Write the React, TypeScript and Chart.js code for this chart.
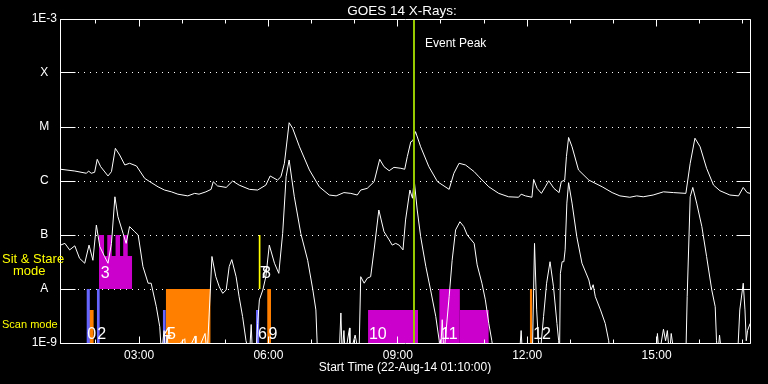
import React, { useEffect, useRef } from "react";
import { Chart, registerables } from "chart.js";

Chart.register(...registerables);

// ---------- text ----------
const TITLE = "GOES 14 X-Rays:";
const X_TITLE = "Start Time (22-Aug-14 01:10:00)";
const PEAK_LABEL = "Event Peak";
const SIT_LABEL = ["Sit & Stare", "mode"];
const SCAN_LABEL = "Scan mode";

// ---------- axes ----------
const X_MIN = 1 + 10 / 60; // 01:10
const X_MAX = 17 + 10 / 60; // 17:10
const xTickHours = [3, 6, 9, 12, 15];
const xMinorHours = [2, 3, 4, 5, 6, 7, 8, 9, 10, 11, 12, 13, 14, 15, 16, 17];
const yTickValues = [1e-9, 1e-8, 1e-7, 1e-6, 1e-5, 1e-4, 1e-3];
const yTickLabels = ["1E-9", "A", "B", "C", "M", "X", "1E-3"];

// ---------- GOES long channel (1-8 A) ----------
const longHours = [
  1.18, 1.51, 1.78, 1.83, 1.89, 1.97, 2.03, 2.11, 2.28, 2.36,
  2.45, 2.55, 2.67, 2.78, 2.94, 3.13, 3.25, 3.44, 3.59, 3.75,
  3.9, 4.13, 4.29, 4.39, 4.55, 4.67, 4.72, 4.82, 5.02, 5.17,
  5.32, 5.56, 5.75, 5.94, 6.04, 6.21, 6.29, 6.37, 6.48, 6.56,
  6.72, 6.95, 7.18, 7.41, 7.57, 7.75, 7.91, 8.06, 8.14, 8.29,
  8.45, 8.58, 8.68, 8.8, 8.91, 9.07, 9.16, 9.22, 9.3, 9.35,
  9.41, 9.53, 9.72, 9.92, 10.19, 10.3, 10.42, 10.57, 10.77, 10.88,
  11.11, 11.34, 11.57, 11.8, 11.86, 11.96, 12.11, 12.15, 12.23, 12.33,
  12.42, 12.5, 12.62, 12.74, 12.79, 12.87, 12.91, 12.96, 13.04, 13.19,
  13.43, 13.74, 13.97, 14.15, 14.38, 14.54, 14.69, 14.92, 15.16, 15.39,
  15.68, 15.78, 15.89, 16.01, 16.16, 16.32, 16.47, 16.7, 16.9, 17.01,
  17.1, 17.17,
];
const longFlux = [
  1.65e-6, 1.53e-6, 1.39e-6, 1.53e-6, 1.39e-6, 1.45e-6, 2.52e-6, 1.84e-6, 1.24e-6, 1.49e-6,
  4.03e-6, 3.03e-6, 1.98e-6, 2.13e-6, 1.9e-6, 1.12e-6, 9.7e-7, 7.8e-7, 6.8e-7, 6.3e-7,
  5.7e-7, 5.3e-7, 5.9e-7, 5.7e-7, 6.3e-7, 7.0e-7, 9.7e-7, 8.1e-7, 7.6e-7, 1.0e-6,
  8.4e-7, 7.0e-7, 6.8e-7, 8.4e-7, 1.24e-6, 1.04e-6, 1.2e-6, 2.13e-6, 1.2e-5, 9.5e-6,
  4.3e-6, 1.6e-6, 7.8e-7, 5.5e-7, 5.3e-7, 6.1e-7, 5.9e-7, 5.5e-7, 6.8e-7, 7.3e-7,
  9.7e-7, 2.52e-6, 1.84e-6, 1.55e-6, 1.79e-6, 1.72e-6, 1.65e-6, 2.82e-6, 5.3e-6, 5.6e-6,
  8.2e-6, 4.3e-6, 1.84e-6, 9.7e-7, 7.0e-7, 1.39e-6, 2.13e-6, 1.98e-6, 1.49e-6, 1.2e-6,
  7.8e-7, 5.9e-7, 5.1e-7, 5.0e-7, 5.7e-7, 5.3e-7, 5.0e-7, 1.07e-6, 7.3e-7, 5.9e-7,
  7.8e-7, 1.01e-6, 7.3e-7, 6.1e-7, 9.7e-7, 1.04e-6, 2.82e-6, 6.4e-6, 4.3e-6, 1.6e-6,
  1.04e-6, 7.8e-7, 6.1e-7, 5.3e-7, 5.0e-7, 5.3e-7, 5.1e-7, 5.5e-7, 6.3e-7, 6.1e-7,
  5.9e-7, 2.13e-6, 6.2e-6, 4.3e-6, 1.72e-6, 8.4e-7, 6.6e-7, 5.5e-7, 5.3e-7, 7.6e-7,
  6.1e-7, 5.9e-7,
];

// ---------- GOES short channel (0.5-4 A) ----------
const shortHours = [
  1.18, 1.28, 1.39, 1.51, 1.62, 1.74, 1.84, 1.93, 2.01, 2.09,
  2.2, 2.28, 2.36, 2.44, 2.51, 2.63, 2.7, 2.78, 2.9, 2.98,
  3.09, 3.21, 3.28, 3.4, 3.48, 3.52, 3.58, 3.61, 3.65, 3.69,
  4.06, 4.09, 4.3, 4.32, 4.53, 4.58, 4.69, 4.78, 4.86, 4.94,
  5.02, 5.09, 5.15, 5.25, 5.32, 5.4, 5.48, 5.56, 5.6, 5.63,
  5.71, 5.75, 5.79, 5.87, 5.94, 6.02, 6.14, 6.24, 6.33, 6.41,
  6.48, 6.6, 6.75, 6.91, 7.03, 7.1, 7.14, 7.64, 7.68, 7.71,
  7.75, 7.78, 7.88, 7.89, 8.01, 8.1, 8.14, 8.22, 8.29, 8.37,
  8.45, 8.56, 8.68, 8.8, 8.87, 8.95, 9.03, 9.12, 9.18, 9.28,
  9.34, 9.38, 9.45, 9.53, 9.65, 9.76, 9.88, 9.96, 9.99, 10.03,
  10.07, 10.19, 10.26, 10.34, 10.44, 10.53, 10.61, 10.77, 10.84, 10.95,
  11.03, 11.11, 11.18, 11.23, 11.82, 11.86, 11.89, 12.12, 12.17, 12.22,
  12.26, 12.3, 12.38, 12.45, 12.53, 12.61, 12.69, 12.73, 12.75, 12.77,
  12.81, 12.85, 12.88, 12.92, 12.96, 13.04, 13.15, 13.27, 13.43, 13.48,
  13.53, 13.58, 13.7, 13.81, 13.89, 13.92, 14.99, 15.02, 15.06, 15.16,
  15.21, 15.25, 15.3, 15.34, 15.41, 15.68, 15.71, 15.78, 15.84, 15.93,
  16.05, 16.16, 16.28, 16.36, 16.39, 16.42, 16.46, 16.51, 16.88, 16.93,
  17.01, 17.05, 17.08, 17.11, 17.17,
];
const shortFlux = [
  6.5e-8, 7.0e-8, 5.3e-8, 6.3e-8, 3.7e-8, 3.0e-8, 6.5e-8, 3.4e-8, 1.53e-7, 6.1e-8,
  4.0e-8, 3.0e-8, 7.0e-8, 5.1e-7, 2.18e-7, 1.07e-7, 7.0e-8, 1.43e-7, 1.15e-7, 1.0e-7,
  2.6e-8, 1.28e-8, 1.28e-8, 4.7e-9, 2.0e-9, 6e-10, 1.7e-9, 6e-10, 1.4e-9, 6e-10,
  1.2e-9, 6e-10, 1.35e-9, 6e-10, 1.5e-9, 6e-10, 4.0e-8, 1.69e-8, 1.1e-8, 8.3e-9,
  9.6e-9, 2.6e-8, 3.5e-8, 1.69e-8, 7.2e-9, 3.1e-9, 1.1e-9, 6e-10, 2.2e-9, 6e-10,
  6e-10, 2.3e-9, 6.3e-9, 9.6e-9, 1.69e-8, 6.5e-8, 3.0e-8, 1.95e-8, 1.07e-7, 1.2e-6,
  2.45e-6, 5.1e-7, 1.07e-7, 3.4e-8, 9.6e-9, 4.1e-9, 6e-10, 6e-10, 3.6e-9, 6e-10,
  1.7e-9, 6e-10, 1.9e-9, 6e-10, 1.4e-9, 6e-10, 1.69e-8, 1.28e-8, 1.58e-8, 1.69e-8,
  5.3e-8, 2.9e-7, 1.15e-7, 8.1e-8, 6.5e-8, 7.0e-8, 6.5e-8, 5.3e-8, 1.9e-7, 6.8e-7,
  4.8e-7, 1.04e-6, 2.9e-7, 9.3e-8, 2.6e-8, 9.6e-9, 3.1e-9, 1.1e-9, 6e-10, 2.7e-9,
  6e-10, 7.2e-9, 3.4e-8, 1.24e-7, 1.76e-7, 1.43e-7, 1.0e-7, 7.0e-8, 2.8e-8, 1.28e-8,
  6.3e-9, 2.3e-9, 1.1e-9, 6e-10, 6e-10, 1.7e-9, 6e-10, 6e-10, 7.0e-8, 4.1e-9,
  1.1e-9, 6e-10, 3.1e-9, 1.28e-8, 3.2e-8, 1.1e-8, 2.3e-9, 1.1e-9, 6e-10, 1.95e-8,
  3.2e-8, 3.2e-8, 5.3e-8, 3.9e-7, 9.3e-7, 3.9e-7, 9.3e-8, 3.0e-8, 1.47e-8, 9.6e-9,
  1.2e-8, 7.2e-9, 4.1e-9, 2.3e-9, 1.1e-9, 6e-10, 6e-10, 1.5e-9, 6e-10, 1.8e-9,
  1.1e-9, 1.7e-9, 6e-10, 1.5e-9, 6e-10, 6e-10, 7.2e-9, 5.1e-7, 7.6e-7, 3.9e-7,
  1.43e-7, 4.0e-8, 9.6e-9, 4.7e-9, 1.1e-9, 6e-10, 1.4e-9, 6e-10, 6e-10, 4.1e-9,
  1.28e-8, 4.1e-9, 1.1e-9, 1.7e-9, 2.3e-9,
];

// ---------- event peak ----------
const PEAK_HOUR = 9.375;

// ---------- observation blocks ----------
const barStart = [1.78, 1.84, 2.02, 2.07, 2.07, 2.26, 2.45, 2.63, 3.55, 3.62, 5.71, 5.77, 5.97, 8.31, 9.96, 10.44, 12.06];
const barEnd = [1.86, 1.95, 2.09, 2.84, 2.19, 2.37, 2.56, 2.74, 3.62, 4.66, 5.79, 5.82, 6.06, 9.47, 10.44, 11.11, 12.12];
const barLow = [1e-9, 1e-9, 1e-9, 1e-8, 4.1e-8, 4.1e-8, 4.1e-8, 4.1e-8, 1e-9, 1e-9, 1e-9, 1e-8, 1e-9, 1e-9, 1e-9, 1e-9, 1e-9];
const barHigh = [1e-8, 4.1e-9, 1e-8, 4.1e-8, 1e-7, 1e-7, 1e-7, 1e-7, 4.1e-9, 1e-8, 4.1e-9, 1e-7, 1e-8, 4.1e-9, 1e-8, 4.1e-9, 1e-8];
const barKind = ["blue", "orange", "blue", "magenta", "magenta", "magenta", "magenta", "magenta", "blue", "orange", "blue", "yellow", "orange", "magenta", "magenta", "magenta", "orange"];

const labelText = ["0", "2", "3", "4", "5", "6", "7", "8", "9", "10", "11", "12"];
const labelHour = [1.8, 2.03, 2.11, 3.55, 3.65, 5.76, 5.8, 5.85, 6.0, 8.33, 10.0, 12.14];
const labelBase = [1.19e-9, 1.19e-9, 1.6e-8, 1.19e-9, 1.19e-9, 1.19e-9, 1.6e-8, 1.6e-8, 1.19e-9, 1.19e-9, 1.19e-9, 1.19e-9];

const KIND_COLORS: Record<string, string> = {
  blue: "#6666ff",
  orange: "#ff8000",
  magenta: "#cc00cc",
  yellow: "#ffff00",
};

const FONT = '"Liberation Sans", Arial, sans-serif';

const fmtHour = (v: number) => `${String(Math.round(v)).padStart(2, "0")}:00`;

const decorPlugin = {
  id: "goesDecor",
  afterDatasetsDraw(chart: any) {
    const { ctx, scales } = chart;
    const x = scales.x;
    const y = scales.y;
    ctx.save();
    ctx.fillStyle = "#ffffff";
    ctx.font = `16px ${FONT}`;
    ctx.textAlign = "left";
    ctx.textBaseline = "alphabetic";
    labelText.forEach((t, i) => {
      ctx.fillText(t, x.getPixelForValue(labelHour[i]), y.getPixelForValue(labelBase[i]));
    });
    ctx.restore();
  },
  afterDraw(chart: any) {
    const { ctx, chartArea: a, scales } = chart;
    const x = scales.x;
    const y = scales.y;
    const al = (v: number) => Math.round(v - 0.5) + 0.5;
    ctx.save();
    ctx.strokeStyle = "#ffffff";
    ctx.lineWidth = 1;
    const L = al(a.left), R = al(a.right), T = al(a.top), B = al(a.bottom);
    ctx.beginPath();
    ctx.rect(L, T, R - L, B - T);
    yTickValues.forEach((v) => {
      const py = al(y.getPixelForValue(v));
      ctx.moveTo(L, py);
      ctx.lineTo(L + 15, py);
      ctx.moveTo(R - 14, py);
      ctx.lineTo(R, py);
    });
    xMinorHours.forEach((h) => {
      const px = al(x.getPixelForValue(h));
      const len = h % 3 === 0 ? 7 : 4;
      ctx.moveTo(px, T);
      ctx.lineTo(px, T + len);
      ctx.moveTo(px, B);
      ctx.lineTo(px, B - len);
    });
    ctx.stroke();

    ctx.fillStyle = "#ffffff";
    ctx.font = `13.5px ${FONT}`;
    ctx.textAlign = "center";
    ctx.textBaseline = "alphabetic";
    ctx.fillText(TITLE, (a.left + a.right) / 2 - 3, 14.5);

    ctx.font = `12px ${FONT}`;
    ctx.textAlign = "left";
    ctx.fillText(PEAK_LABEL, x.getPixelForValue(PEAK_HOUR) + 11, a.top + 28);

    ctx.fillStyle = "#ffff00";
    ctx.font = `13px ${FONT}`;
    ctx.fillText(SIT_LABEL[0], 2, 263);
    ctx.fillText(SIT_LABEL[1], 13, 275);
    ctx.font = `11px ${FONT}`;
    ctx.fillText(SCAN_LABEL, 2, 328);
    ctx.restore();
  },
};

export default function App() {
  const canvasRef = useRef<HTMLCanvasElement | null>(null);

  useEffect(() => {
    const canvas = canvasRef.current;
    if (!canvas) return;
    Chart.defaults.font.family = FONT;

    const barSets = barStart.map((s, i) => ({
      type: "line" as const,
      data: [
        { x: s, y: barHigh[i] },
        { x: barEnd[i], y: barHigh[i] },
      ],
      fill: { value: barLow[i] },
      backgroundColor: KIND_COLORS[barKind[i]],
      borderColor: "rgba(0,0,0,0)",
      borderWidth: 0,
      pointRadius: 0,
      order: 3,
    }));

    const chart = new Chart(canvas, {
      type: "line",
      data: {
        datasets: [
          {
            data: [
              { x: PEAK_HOUR, y: 1e-9 },
              { x: PEAK_HOUR, y: 1e-3 },
            ],
            borderColor: "#99cc00",
            borderWidth: 2,
            pointRadius: 0,
            fill: false,
            order: 0,
          },
          {
            data: longHours.map((h, i) => ({ x: h, y: longFlux[i] })),
            borderColor: "#ffffff",
            borderWidth: 1,
            pointRadius: 0,
            fill: false,
            order: 1,
          },
          {
            data: shortHours.map((h, i) => ({ x: h, y: shortFlux[i] })),
            borderColor: "#ffffff",
            borderWidth: 1,
            pointRadius: 0,
            fill: false,
            order: 1,
          },
          ...barSets,
        ] as any,
      },
      options: {
        animation: false,
        responsive: false,
        maintainAspectRatio: false,
        events: [],
        layout: { padding: { top: 19, right: 18, left: 0, bottom: 0 } },
        elements: { line: { tension: 0 } },
        plugins: {
          legend: { display: false },
          tooltip: { enabled: false },
          title: { display: false },
        },
        scales: {
          x: {
            type: "linear",
            min: X_MIN,
            max: X_MAX,
            afterBuildTicks: (s: any) => {
              s.ticks = xTickHours.map((v) => ({ value: v }));
            },
            afterFit: (s: any) => {
              s.height = 41;
            },
            grid: { display: false, drawTicks: false },
            border: { display: false },
            ticks: {
              color: "#ffffff",
              font: { family: FONT, size: 12 },
              padding: 5,
              maxRotation: 0,
              autoSkip: false,
              callback: (v: any) => fmtHour(Number(v)),
            },
            title: {
              display: true,
              text: X_TITLE,
              color: "#ffffff",
              font: { family: FONT, size: 12 },
              padding: { top: 0, bottom: 9 },
            },
          },
          y: {
            type: "logarithmic",
            min: 1e-9,
            max: 1e-3,
            afterBuildTicks: (s: any) => {
              s.ticks = yTickValues.map((v) => ({ value: v }));
            },
            afterFit: (s: any) => {
              s.width = 60;
            },
            grid: { color: "#ffffff", lineWidth: 1, drawTicks: false },
            border: { display: false, dash: [1, 5] },
            ticks: {
              color: "#ffffff",
              font: { family: FONT, size: 12 },
              padding: 3,
              crossAlign: "center",
              autoSkip: false,
              callback: (_v: any, i: number) => yTickLabels[i],
            },
          },
        },
      } as any,
      plugins: [decorPlugin],
    });
    return () => chart.destroy();
  }, []);

  return (
    <div
      style={{
        position: "fixed",
        left: 0,
        top: 0,
        width: 768,
        height: 384,
        background: "#000000",
      }}
    >
      <canvas ref={canvasRef} width={768} height={384} style={{ display: "block" }} />
    </div>
  );
}
